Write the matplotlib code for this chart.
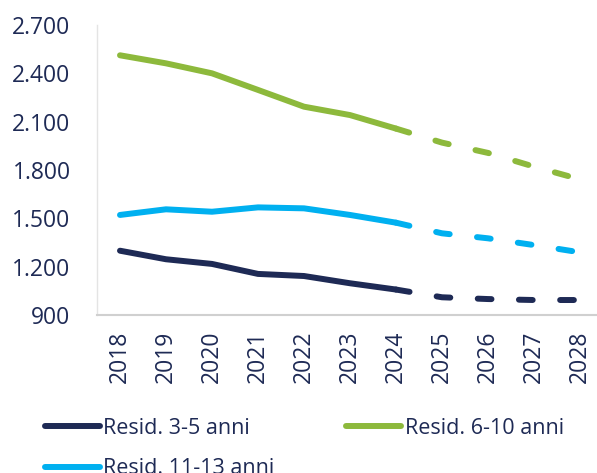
import matplotlib
matplotlib.use("Agg")
import matplotlib.pyplot as plt
from matplotlib.ticker import FuncFormatter

years = ["2018", "2019", "2020", "2021", "2022", "2023", "2024",
         "2025", "2026", "2027", "2028"]
resid_3_5 = [1299, 1246, 1217, 1155, 1142, 1097, 1058, 1010, 999, 993, 993]
resid_6_10 = [2512, 2462, 2400, 2297, 2193, 2141, 2057, 1970, 1906, 1821, 1742]
resid_11_13 = [1521, 1556, 1541, 1568, 1562, 1521, 1473, 1407, 1376, 1334, 1289]
labels = ["Resid. 3-5 anni", "Resid. 6-10 anni", "Resid. 11-13 anni"]
last_actual = "2024"

navy = "#1E2A55"
green = "#8DB93C"
cyan = "#00B0F0"
text_color = "#1E2A55"

plt.rcParams['font.family'] = ['Open Sans', 'DejaVu Sans']

fig = plt.figure(figsize=(5.97, 4.73), dpi=100)
ax = fig.add_axes([97/597, 1 - 315/473, (603 - 97)/597, (315 - 25)/473])

x = list(range(len(years)))
split = years.index(last_actual)
lw = 4.3
series = [(resid_3_5, navy), (resid_6_10, green), (resid_11_13, cyan)]
handles = []
for (vals, col), lab in zip(series, labels):
    h, = ax.plot(x[:split + 1], vals[:split + 1], color=col, lw=lw,
                 solid_capstyle='round', solid_joinstyle='round', label=lab)
    ax.plot(x[split:], vals[split:], color=col, lw=lw,
            linestyle=(0, (2.3, 4.6)), dash_capstyle='round',
            dash_joinstyle='round')
    handles.append(h)

ax.set_xlim(-0.5, len(years) - 0.5)
ax.set_ylim(900, 2700)
ax.set_yticks([900, 1200, 1500, 1800, 2100, 2400, 2700])
ax.yaxis.set_major_formatter(FuncFormatter(lambda v, p: f"{int(v):,}".replace(",", ".")))
ax.set_xticks(x)
ax.set_xticklabels(years, rotation=90)

for s in ["top", "right"]:
    ax.spines[s].set_visible(False)
ax.spines["left"].set_color("#E4E4E4")
ax.spines["left"].set_linewidth(1.0)
ax.spines["bottom"].set_color("#D0D0D0")
ax.spines["bottom"].set_linewidth(1.5)
ax.tick_params(axis='both', length=0, colors=text_color, labelsize=16.5)
ax.tick_params(axis='y', pad=19)
ax.tick_params(axis='x', pad=11)

order = [handles[0], handles[2], handles[1]]
fig.legend(order, [h.get_label() for h in order], ncol=2,
           loc='upper left', bbox_to_anchor=(45/597, 1 - 418/473),
           frameon=False, fontsize=15.5, labelcolor=text_color,
           handlelength=2.55, handletextpad=0.15, columnspacing=3.35,
           labelspacing=0.9, borderaxespad=0, borderpad=0)

fig.savefig("out.png", dpi=100)
